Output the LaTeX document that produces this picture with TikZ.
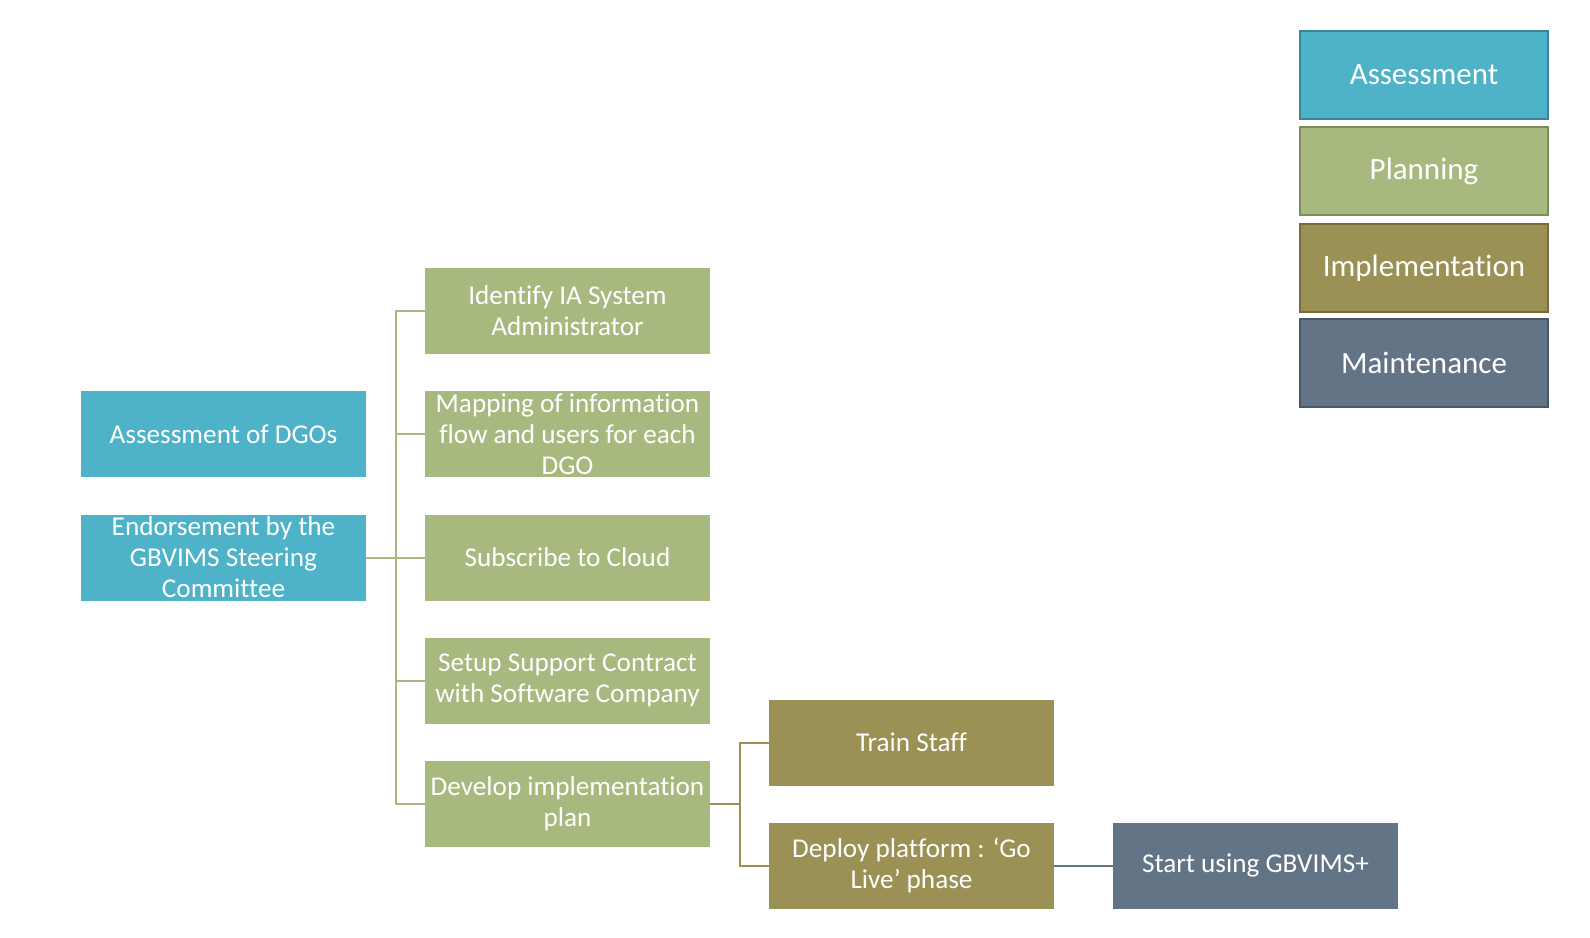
\documentclass[tikz,border=0pt]{standalone}
\usepackage{fontspec}
\setmainfont{Carlito}[Ligatures={NoCommon}]
\definecolor{cAss}{HTML}{4EB2C8}
\definecolor{cPlan}{HTML}{A8B97F}
\definecolor{cImp}{HTML}{9B9155}
\definecolor{cMnt}{HTML}{637487}
\begin{document}
\begin{tikzpicture}[x=1pt,y=-1pt,
  box/.style={minimum width=285pt,minimum height=86pt,align=center,inner sep=0pt,text=white,font=\fontsize{27.2}{31}\selectfont},
  leg/.style={minimum width=248pt,minimum height=88pt,align=center,inner sep=0pt,text=white,line width=1.5pt,font=\fontsize{31}{36}\selectfont},
  pline/.style={draw=cPlan,line width=2pt},
  iline/.style={draw=cImp,line width=2pt},
  mline/.style={draw=cMnt,line width=2pt}]
\useasboundingbox (0,0) rectangle (1590,937);
% legend
\node[leg,fill=cAss,draw=cAss!75!black] (la) at (1424,75) {Assessment};
\node[leg,fill=cPlan,draw=cPlan!75!black] (lp) at (1424,171) {Planning};
\node[leg,fill=cImp,draw=cImp!75!black] (li) at (1424,268) {Implementation};
\node[leg,fill=cMnt,draw=cMnt!75!black] (lm) at (1424,363) {Maintenance};
% assessment
\node[box,fill=cAss] (a1) at (223.5,434) {Assessment of DGOs};
\node[box,fill=cAss] (a2) at (223.5,557.5) {Endorsement by the\\GBVIMS Steering\\Committee};
% planning
\node[box,fill=cPlan] (g1) at (567.5,310.5) {Identify IA System\\Administrator};
\node[box,fill=cPlan] (g2) at (567.5,434) {Mapping of information\\flow and users for each\\DGO};
\node[box,fill=cPlan] (g3) at (567.5,557.5) {Subscribe to Cloud};
\node[box,fill=cPlan] (g4) at (567.5,680.5) {Setup Support Contract\\with Software Company};
\node[box,fill=cPlan] (g5) at (567.5,804) {Develop implementation\\plan};
% implementation
\node[box,fill=cImp] (t1) at (911.5,742.5) {Train Staff};
\node[box,fill=cImp] (t2) at (911.5,865.5) {Deploy platform : ‘Go\\Live’ phase};
% maintenance
\node[box,fill=cMnt] (m1) at (1255.5,865.5) {Start using GBVIMS+};
% connectors
\foreach \g in {g1,g2,g3,g4,g5}
  \draw[pline] (a2.east) -- +(29.5,0) |- (\g.west);
\foreach \t in {t1,t2}
  \draw[iline] (g5.east) -- +(29.5,0) |- (\t.west);
\draw[mline] (t2.east) -- (m1.west);
\end{tikzpicture}
\end{document}
